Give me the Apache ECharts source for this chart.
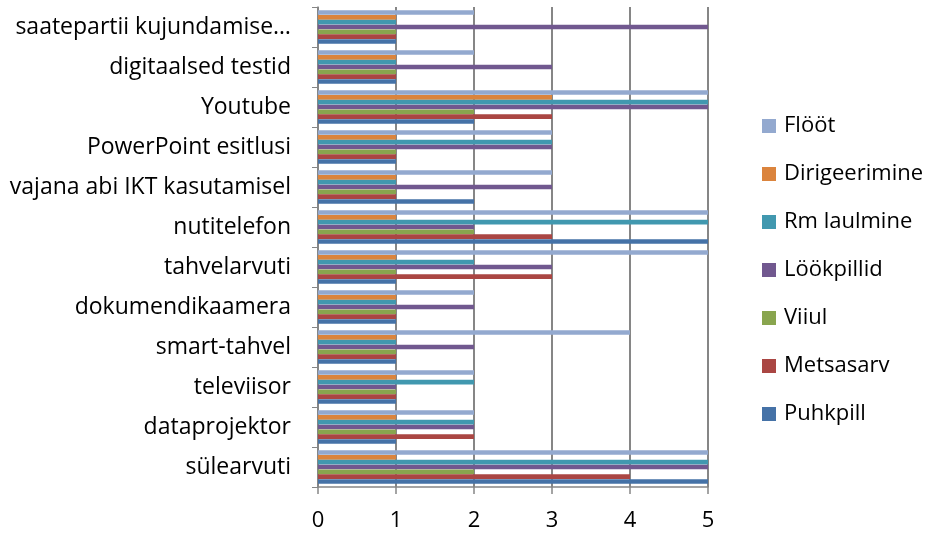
<!DOCTYPE html>
<html>
<head>
<meta charset="utf-8">
<script src="https://cdn.jsdelivr.net/npm/echarts@6/dist/echarts.min.js"></script>
<style>
  html, body { margin: 0; padding: 0; background: #fff; }
  #chart { width: 926px; height: 535px; }
</style>
</head>
<body>
<div id="chart"></div>
<script>
// categories, bottom to top
var categories = ["sülearvuti", "dataprojektor", "televiisor", "smart-tahvel", "dokumendikaamera",
  "tahvelarvuti", "nutitelefon", "vajana abi IKT kasutamisel", "PowerPoint esitlusi",
  "Youtube", "digitaalsed testid", "saatepartii kujundamise…"];

var puhkpill      = [5, 1, 1, 1, 1, 1, 5, 2, 1, 2, 1, 1];
var metsasarv     = [4, 2, 1, 1, 1, 3, 3, 1, 1, 3, 1, 1];
var viiul         = [2, 1, 1, 1, 1, 1, 2, 1, 1, 2, 1, 1];
var lookpillid    = [5, 2, 1, 2, 2, 3, 2, 3, 3, 5, 3, 5];
var rmLaulmine    = [5, 2, 2, 1, 1, 2, 5, 1, 3, 5, 1, 1];
var dirigeerimine = [1, 1, 1, 1, 1, 1, 1, 1, 1, 3, 1, 1];
var floot         = [5, 2, 2, 4, 2, 5, 5, 3, 3, 5, 2, 2];

// top of each group first (echarts puts the first series at the top of a horizontal band)
var seriesNames = ["Flööt", "Dirigeerimine", "Rm laulmine", "Löökpillid", "Viiul", "Metsasarv", "Puhkpill"];
var seriesData = [floot, dirigeerimine, rmLaulmine, lookpillid, viiul, metsasarv, puhkpill];
var colors = ["#93A9CF", "#DB843D", "#4198AF", "#71588F", "#89A54E", "#AA4643", "#4572A7"];

var chart = echarts.init(document.getElementById("chart"));
var font = "Open Sans";

var series = seriesNames.map(function (name, i) {
  return {
    name: name,
    type: "bar",
    data: seriesData[i],
    barGap: "4%",
    barCategoryGap: "16%",
    itemStyle: { color: colors[i] },
    animation: false
  };
});

var option = {
  color: colors,
  animation: false,
  grid: { left: 318, right: 218, top: 7, bottom: 48 },
  legend: {
    orient: "vertical",
    left: 757,
    top: 110,
    itemWidth: 14,
    itemHeight: 14,
    itemGap: 26,
    icon: "rect",
    data: seriesNames,
    textStyle: { fontFamily: font, fontSize: 22, color: "#000", padding: [0, 0, 0, 3] }
  },
  xAxis: {
    type: "value",
    min: 0,
    max: 5,
    interval: 1,
    axisLine: { show: true, lineStyle: { color: "#868686", width: 1.5 } },
    axisTick: { show: true, length: 7, lineStyle: { color: "#868686", width: 1.5 } },
    splitLine: { show: true, lineStyle: { color: "#868686", width: 2 } },
    axisLabel: { fontFamily: font, fontSize: 22, color: "#000", margin: 23 }
  },
  yAxis: {
    type: "category",
    data: categories,
    axisLine: { show: true, lineStyle: { color: "#868686", width: 1.5 } },
    axisTick: { show: true, length: 6, lineStyle: { color: "#868686" } },
    axisLabel: { fontFamily: font, fontSize: 23, color: "#000", margin: 27 }
  },
  series: series
};

chart.setOption(option);
</script>
</body>
</html>
